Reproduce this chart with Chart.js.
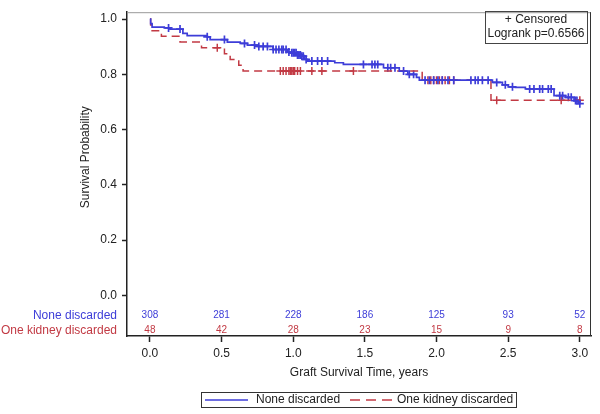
<!DOCTYPE html>
<html>
<head>
<meta charset="utf-8">
<script src="https://cdn.jsdelivr.net/npm/chart.js@4"></script>
<style>
  html, body { margin: 0; padding: 0; background: #fff; }
  #wrap { width: 600px; height: 414px; }
</style>
</head>
<body>
<div id="wrap"><canvas id="km" width="600" height="414"></canvas></div>
<script>
// Kaplan-Meier steps
const noneTimes = [0, 0.005, 0.015, 0.10, 0.14, 0.23, 0.26, 0.40, 0.42, 0.54, 0.63, 0.68, 0.75, 0.86, 0.96, 0.99, 1.03, 1.06, 1.08, 1.10, 1.29, 1.35, 1.63, 1.74, 1.80, 1.86, 1.88, 2.39, 2.46, 2.50, 2.55, 2.62, 2.82, 2.90, 2.96, 2.99, 3.0];
const noneSurv  = [1.0, 0.984, 0.971, 0.968, 0.964, 0.948, 0.940, 0.936, 0.926, 0.917, 0.912, 0.906, 0.901, 0.890, 0.881, 0.878, 0.870, 0.866, 0.854, 0.848, 0.842, 0.836, 0.824, 0.812, 0.800, 0.789, 0.779, 0.771, 0.762, 0.755, 0.753, 0.747, 0.723, 0.717, 0.705, 0.694, 0.694];

const kidneyTimes = [0, 0.005, 0.015, 0.08, 0.21, 0.36, 0.52, 0.56, 0.62, 0.65, 1.90, 2.38, 3.0];
const kidneySurv  = [1.0, 0.979, 0.958, 0.9375, 0.917, 0.896, 0.875, 0.854, 0.833, 0.8125, 0.779, 0.706, 0.706];

// censored times
const noneCensored = [0.13, 0.21, 0.40, 0.52, 0.66, 0.73, 0.76, 0.79, 0.82, 0.86, 0.88, 0.90, 0.92, 0.93, 0.95, 0.97, 0.99, 1.00, 1.01, 1.02, 1.03, 1.04, 1.05, 1.06, 1.07, 1.09, 1.13, 1.17, 1.20, 1.24, 1.49, 1.55, 1.57, 1.59, 1.66, 1.68, 1.71, 1.77, 1.81, 1.84, 1.92, 1.95, 1.98, 2.01, 2.04, 2.08, 2.12, 2.24, 2.27, 2.29, 2.32, 2.36, 2.42, 2.48, 2.53, 2.65, 2.68, 2.72, 2.74, 2.78, 2.80, 2.86, 2.88, 2.92, 2.94, 2.97, 2.98, 3.0];
const kidneyCensored = [0.47, 0.91, 0.93, 0.95, 0.97, 0.98, 0.99, 1.00, 1.01, 1.03, 1.05, 1.13, 1.20, 1.42, 1.94, 1.96, 1.98, 2.00, 2.02, 2.04, 2.06, 2.09, 2.12, 2.42, 2.87, 3.0];

// number at risk
const riskTimes = [0, 0.5, 1.0, 1.5, 2.0, 2.5, 3.0];
const noneAtRisk = [308, 281, 228, 186, 125, 93, 52];
const kidneyAtRisk = [48, 42, 28, 23, 15, 9, 8];

const xTicks = [0, 0.5, 1.0, 1.5, 2.0, 2.5, 3.0];
const yTicks = [0, 0.2, 0.4, 0.6, 0.8, 1.0];

const BLUE = '#3d3dd8';
const RED = '#c23a44';
const FONT = '"Liberation Sans", Arial, sans-serif';

function survAt(times, surv, t) {
    let s = surv[0];
    for (let i = 0; i < times.length; i++) {
        if (times[i] <= t) s = surv[i];
    }
    return s;
}

const nonePts = noneTimes.map((t, i) => ({ x: t, y: noneSurv[i] }));
const kidneyPts = kidneyTimes.map((t, i) => ({ x: t, y: kidneySurv[i] }));
const noneCens = noneCensored.map(t => ({ x: t, y: survAt(noneTimes, noneSurv, t) }));
const kidneyCens = kidneyCensored.map(t => ({ x: t, y: survAt(kidneyTimes, kidneySurv, t) }));

const extras = {
    id: 'extras',
    afterDraw(chart) {
        const ctx = chart.ctx;
        const a = chart.chartArea;
        const xs = chart.scales.x, ys = chart.scales.y;
        ctx.save();

        // frame
        ctx.lineWidth = 1;
        ctx.strokeStyle = '#999';
        ctx.beginPath(); ctx.moveTo(a.left, a.top + 0.5); ctx.lineTo(a.right, a.top + 0.5); ctx.stroke();
        ctx.strokeStyle = '#333';
        ctx.beginPath(); ctx.moveTo(a.right - 0.5, a.top); ctx.lineTo(a.right - 0.5, a.bottom); ctx.stroke();

        // at risk table
        ctx.font = '10px ' + FONT;
        ctx.textAlign = 'center';
        ctx.textBaseline = 'middle';
        const yNone = ys.getPixelForValue(-0.072);
        const yKid = ys.getPixelForValue(-0.126);
        riskTimes.forEach((t, i) => {
            const px = xs.getPixelForValue(t);
            ctx.fillStyle = BLUE;
            ctx.fillText(noneAtRisk[i], px, yNone);
            ctx.fillStyle = RED;
            ctx.fillText(kidneyAtRisk[i], px, yKid);
        });
        ctx.font = '12px ' + FONT;
        ctx.textAlign = 'right';
        ctx.fillStyle = BLUE;
        ctx.fillText('None discarded', 117, yNone);
        ctx.fillStyle = RED;
        ctx.fillText('One kidney discarded', 117, yKid);

        // axis titles
        ctx.fillStyle = '#222';
        ctx.textAlign = 'center';
        ctx.fillText('Graft Survival Time, years', 359, 373);
        ctx.save();
        ctx.translate(86, (ys.getPixelForValue(0) + ys.getPixelForValue(1)) / 2);
        ctx.rotate(-Math.PI / 2);
        ctx.fillText('Survival Probability', 0, 0);
        ctx.restore();

        // inset box
        ctx.strokeStyle = '#444';
        ctx.lineWidth = 1;
        ctx.strokeRect(485.5, 11.5, 102, 32);
        ctx.fillStyle = '#222';
        ctx.fillText('+ Censored', 536, 20);
        ctx.fillText('Logrank p=0.6566', 536, 34);

        // legend
        ctx.strokeStyle = '#333';
        ctx.strokeRect(201.5, 392.5, 315, 15);
        ctx.lineWidth = 1.5;
        ctx.strokeStyle = BLUE;
        ctx.beginPath(); ctx.moveTo(205, 400); ctx.lineTo(248, 400); ctx.stroke();
        ctx.strokeStyle = RED;
        ctx.setLineDash([10, 6]);
        ctx.beginPath(); ctx.moveTo(350, 400); ctx.lineTo(392, 400); ctx.stroke();
        ctx.setLineDash([]);
        ctx.fillStyle = '#222';
        ctx.textAlign = 'left';
        ctx.fillText('None discarded', 256, 400);
        ctx.fillText('One kidney discarded', 397, 400);

        ctx.restore();
    }
};

new Chart(document.getElementById('km').getContext('2d'), {
    type: 'line',
    data: {
        datasets: [{
            label: 'None discarded',
            data: nonePts,
            stepped: true,
            borderColor: BLUE,
            borderWidth: 1.7,
            pointRadius: 0,
            fill: false
        }, {
            label: 'One kidney discarded',
            data: kidneyPts,
            stepped: true,
            borderColor: RED,
            borderWidth: 1.5,
            borderDash: [8, 5],
            pointRadius: 0,
            fill: false
        }, {
            type: 'scatter',
            label: 'None censored',
            data: noneCens,
            pointStyle: 'cross',
            pointRadius: 4,
            borderColor: BLUE,
            borderWidth: 1.7,
            showLine: false
        }, {
            type: 'scatter',
            label: 'Kidney censored',
            data: kidneyCens,
            pointStyle: 'cross',
            pointRadius: 4,
            borderColor: RED,
            borderWidth: 1.5,
            showLine: false
        }]
    },
    options: {
        responsive: false,
        animation: false,
        layout: { padding: { top: 7, right: 9, left: 0, bottom: 0 } },
        plugins: {
            legend: { display: false },
            tooltip: { enabled: false }
        },
        scales: {
            x: {
                type: 'linear',
                min: -0.16,
                max: 3.078,
                afterBuildTicks: s => { s.ticks = xTicks.map(v => ({ value: v })); },
                afterFit: s => { s.height = 78; },
                grid: {
                    drawOnChartArea: false,
                    drawTicks: true,
                    tickLength: 6,
                    tickColor: '#222',
                    tickWidth: 1.5
                },
                border: { display: true, color: '#222', width: 1.5 },
                ticks: {
                    padding: 4,
                    color: '#222',
                    maxRotation: 0,
                    font: { size: 12, family: FONT },
                    callback: v => v.toFixed(1)
                }
            },
            y: {
                type: 'linear',
                min: -0.147,
                max: 1.025,
                afterBuildTicks: s => { s.ticks = yTicks.map(v => ({ value: v })); },
                afterFit: s => { s.width = 127; },
                grid: {
                    drawOnChartArea: false,
                    drawTicks: true,
                    tickLength: 5,
                    tickColor: '#222',
                    tickWidth: 1.5
                },
                border: { display: true, color: '#222', width: 1.5 },
                ticks: {
                    padding: 5,
                    color: '#222',
                    font: { size: 12, family: FONT },
                    callback: v => v.toFixed(1)
                }
            }
        }
    },
    plugins: [extras]
});
</script>
</body>
</html>
